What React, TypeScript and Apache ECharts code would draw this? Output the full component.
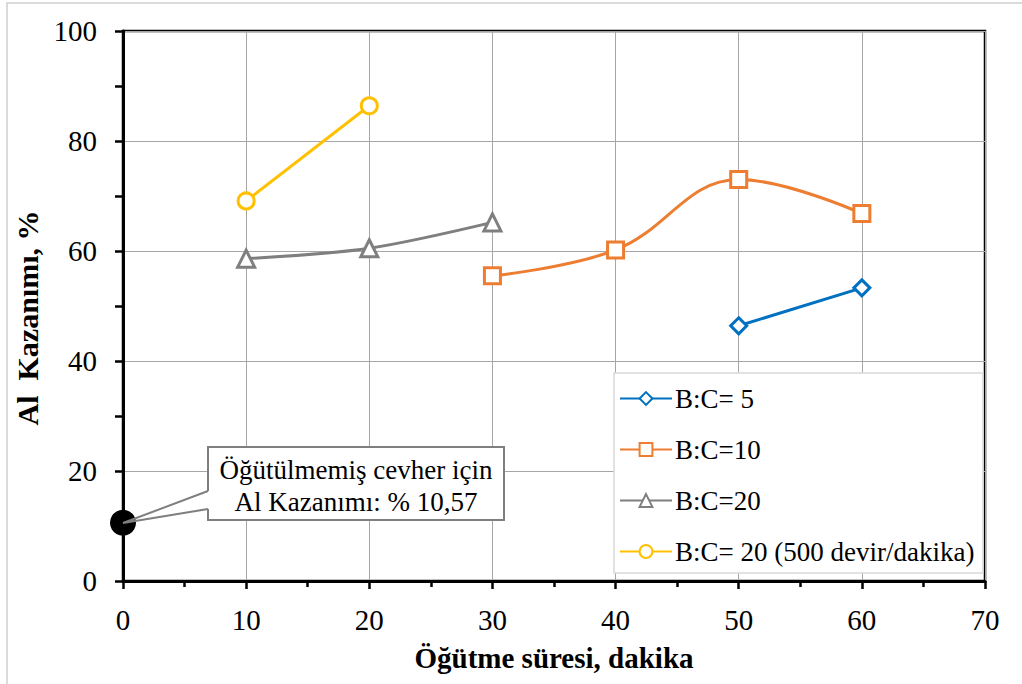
import React, { useEffect, useRef } from "react";
import * as echarts from "echarts";

const xBC5 = [50, 60];
const yBC5 = [46.4, 53.3];
const xBC10 = [30, 40, 50, 60];
const yBC10 = [55.5, 60.2, 73.0, 66.8];
const xBC20 = [10, 20, 30];
const yBC20 = [58.6, 60.5, 65.2];
const xBC20r = [10, 20];
const yBC20r = [69.1, 86.4];
const unmilled = [[0, 10.57]];

const seriesNames = ["B:C= 5", "B:C=10", "B:C=20", "B:C= 20 (500 devir/dakika)"];
const calloutLines = ["Öğütülmemiş cevher için", "Al Kazanımı: % 10,57"];

const FONT = "'Liberation Serif', 'Times New Roman', serif";

function pairs(xs: number[], ys: number[]) {
  return xs.map((x, i) => [x, ys[i]]);
}

export default function App() {
  const ref = useRef<HTMLDivElement>(null);
  useEffect(() => {
    if (!ref.current) return;
    const chart = echarts.init(ref.current, null, { renderer: "svg" });
    const lineSeries = (name: string, data: number[][], color: string, symbol: string, size: number, smooth: number | boolean) => ({
      name,
      type: "line",
      data,
      smooth,
      symbol,
      symbolSize: size,
      showAllSymbol: true,
      lineStyle: { color, width: 3 },
      itemStyle: { color: "#ffffff", borderColor: color, borderWidth: 3 },
      z: 3,
    });
    chart.setOption({
      animation: false,
      backgroundColor: "#ffffff",
      grid: {
        left: 123, top: 31, right: 37, bottom: 103,
        outerBoundsMode: "none", containLabel: false,
        show: true, borderColor: "#000", borderWidth: 2.5, backgroundColor: "transparent",
      },
      xAxis: {
        type: "value",
        min: 0,
        max: 70,
        interval: 10,
        name: "Öğütme süresi, dakika",
        nameLocation: "middle",
        nameGap: 62,
        nameTextStyle: { fontFamily: FONT, fontSize: 29, fontWeight: "bold", color: "#000" },
        axisLine: { show: true, onZero: false, lineStyle: { color: "#000", width: 3 } },
        axisTick: { show: true, inside: false, length: 8, lineStyle: { color: "#000", width: 2.5 } },
        minorTick: { show: true, splitNumber: 2, length: 6, lineStyle: { color: "#000", width: 2.5 } },
        axisLabel: { show: true, fontFamily: FONT, fontSize: 29, color: "#000", margin: 24 },
        splitLine: { show: true, lineStyle: { color: "#a6a6a6", width: 1 } },
      },
      yAxis: {
        type: "value",
        min: 0,
        max: 100,
        interval: 20,
        name: "Al  Kazanımı, %",
        nameLocation: "middle",
        nameGap: 64,
        nameTextStyle: { fontFamily: FONT, fontSize: 30, fontWeight: "bold", color: "#000", padding: [0, 24, 0, 0] },
        axisLine: { show: true, onZero: false, lineStyle: { color: "#000", width: 3 } },
        axisTick: { show: true, inside: false, length: 8, lineStyle: { color: "#000", width: 2.5 } },
        minorTick: { show: true, splitNumber: 2, length: 8, lineStyle: { color: "#000", width: 2.5 } },
        axisLabel: { show: true, fontFamily: FONT, fontSize: 29, color: "#000", margin: 26 },
        splitLine: { show: true, lineStyle: { color: "#a6a6a6", width: 1 } },
      },
      legend: {
        show: true,
        orient: "vertical",
        left: 619,
        top: 385,
        itemWidth: 52,
        itemHeight: 16,
        itemGap: 24,
        data: seriesNames,
        textStyle: { fontFamily: FONT, fontSize: 27, color: "#000", lineHeight: 26, padding: [0, 0, 0, -2] },
        backgroundColor: "transparent",
        borderWidth: 0,
        padding: 0,
        z: 20,
      },
      series: [
        lineSeries(seriesNames[0], pairs(xBC5, yBC5), "#0070c0", "diamond", 16, false),
        lineSeries(seriesNames[1], pairs(xBC10, yBC10), "#ed7d31", "rect", 16, 0.4),
        lineSeries(seriesNames[2], pairs(xBC20, yBC20), "#7f7f7f", "triangle", 17, 0.3),
        lineSeries(seriesNames[3], pairs(xBC20r, yBC20r), "#ffc000", "circle", 16, false),
        {
          name: "unmilled",
          type: "scatter",
          data: unmilled,
          symbol: "circle",
          symbolSize: 26,
          itemStyle: { color: "#000", opacity: 1 },
          z: 4,
        },
      ],
      graphic: [
        { type: "rect", shape: { x: 7, y: 3, width: 1030, height: 700 }, style: { fill: "none", stroke: "#d0d0d0", lineWidth: 1.5 }, z: 1, silent: true },
        { type: "rect", shape: { x: 614, y: 373, width: 369, height: 200 }, style: { fill: "#ffffff", stroke: "#d9d9d9", lineWidth: 1.5 }, z: 10, silent: true },
        { type: "rect", shape: { x: 208, y: 447, width: 296, height: 73 }, style: { fill: "#ffffff", stroke: "none" }, z: 10, silent: true },
        {
          type: "polyline",
          shape: { points: [[208, 491], [208, 447], [504, 447], [504, 520], [208, 520], [208, 509]] },
          style: { fill: "none", stroke: "#7f7f7f", lineWidth: 2 },
          z: 11,
          silent: true,
        },
        {
          type: "polyline",
          shape: { points: [[208, 491], [123, 523], [208, 509]] },
          style: { fill: "none", stroke: "#7f7f7f", lineWidth: 2 },
          z: 11,
          silent: true,
        },
        { type: "text", x: 356, y: 470, style: { text: calloutLines[0], fontFamily: FONT, fontSize: 27, fill: "#000", align: "center", verticalAlign: "middle" }, z: 12 },
        { type: "text", x: 356, y: 502, style: { text: calloutLines[1], fontFamily: FONT, fontSize: 27, fill: "#000", align: "center", verticalAlign: "middle" }, z: 12 },
      ],
    });
    return () => chart.dispose();
  }, []);
  return <div ref={ref} style={{ width: 1022, height: 684, position: "absolute", left: 0, top: 0 }} />;
}
